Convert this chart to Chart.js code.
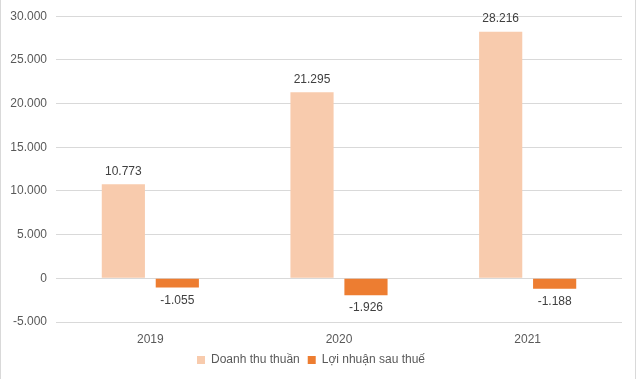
<!DOCTYPE html>
<html>
<head>
<meta charset="utf-8">
<script src="https://cdn.jsdelivr.net/npm/chart.js@4/dist/chart.umd.min.js"></script>
<style>
html,body{margin:0;padding:0;background:#fff;}
#wrap{width:636px;height:379px;position:relative;}
</style>
</head>
<body>
<div id="wrap"><canvas id="c" width="636" height="379"></canvas></div>
<script>
const categories = ["2019", "2020", "2021"];
const revenue = [10773, 21295, 28216];
const profit = [-1055, -1926, -1188];
const seriesNames = ["Doanh thu thuần", "Lợi nhuận sau thuế"];
const yTicks = [-5000, 0, 5000, 10000, 15000, 20000, 25000, 30000];

function fmt(v){
  const neg = v < 0;
  let s = Math.abs(Math.round(v)).toString().replace(/\B(?=(\d{3})+(?!\d))/g, ".");
  return (neg ? "-" : "") + s;
}

const FONT = "'Liberation Sans', Arial, sans-serif";

const labelPlugin = {
  id: 'vals',
  afterDatasetsDraw(chart){
    const ctx = chart.ctx;
    ctx.save();
    ctx.font = "12px " + FONT;
    ctx.fillStyle = "#404040";
    ctx.textAlign = "center";
    ctx.textBaseline = "middle";
    chart.data.datasets.forEach((ds, i) => {
      const meta = chart.getDatasetMeta(i);
      meta.data.forEach((bar, j) => {
        const v = ds.data[j];
        const y = v >= 0 ? bar.y - 13 : bar.y + 13;
        ctx.fillText(fmt(v), bar.x, y);
      });
    });
    ctx.restore();
  }
};

const borderPlugin = {
  id: 'border',
  afterDraw(chart){
    const ctx = chart.ctx;
    ctx.save();
    ctx.strokeStyle = "#d9d9d9";
    ctx.lineWidth = 1;
    ctx.beginPath();
    ctx.moveTo(0.5, 0); ctx.lineTo(0.5, 379);
    ctx.moveTo(635.5, 0); ctx.lineTo(635.5, 379);
    ctx.stroke();
    ctx.restore();
  }
};

new Chart(document.getElementById('c'), {
  type: 'bar',
  data: {
    labels: categories,
    datasets: [
      { label: seriesNames[0], data: revenue, backgroundColor: "#F8CBAD" },
      { label: seriesNames[1], data: profit, backgroundColor: "#ED7D31" }
    ]
  },
  options: {
    responsive: false,
    animation: false,
    devicePixelRatio: 1,
    categoryPercentage: 0.572,
    barPercentage: 0.8,
    layout: { padding: { top: 4, right: 14, left: 0, bottom: 3 } },
    plugins: {
      legend: {
        position: 'bottom',
        labels: {
          font: { family: FONT, size: 12 },
          color: "#595959",
          boxWidth: 8, boxHeight: 8,
          padding: 8
        }
      },
      tooltip: { enabled: false }
    },
    scales: {
      x: {
        grid: { display: false, drawTicks: false },
        border: { display: false },
        afterFit(scale){ scale.height = 24; },
        ticks: { font: { family: FONT, size: 12 }, color: "#595959", padding: 10 }
      },
      y: {
        min: -5000, max: 30000,
        afterBuildTicks(scale){ scale.ticks = yTicks.map(v => ({ value: v })); },
        afterFit(scale){ scale.width = 56; },
        grid: { color: "#d9d9d9", drawTicks: false },
        border: { display: false },
        ticks: { font: { family: FONT, size: 12 }, color: "#595959", padding: 9, callback: v => fmt(v) }
      }
    }
  },
  plugins: [labelPlugin, borderPlugin]
});
</script>
</body>
</html>
